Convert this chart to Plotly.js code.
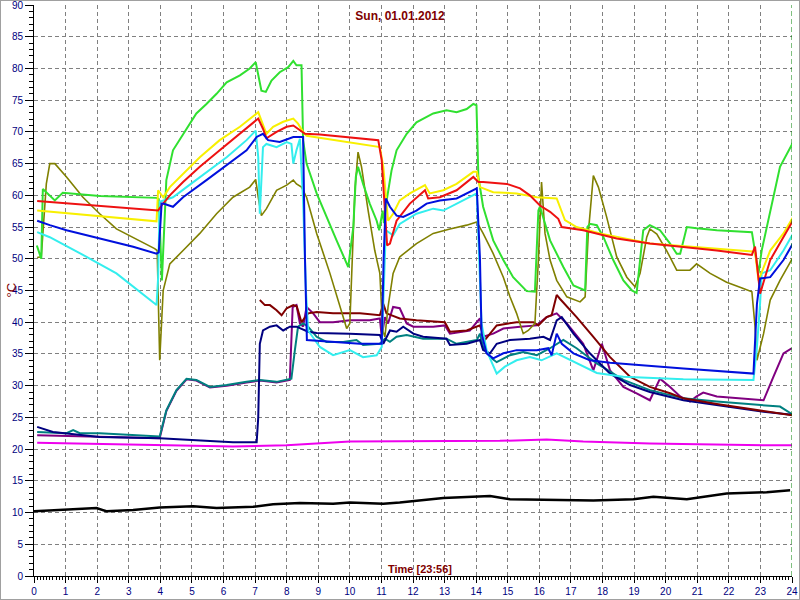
<!DOCTYPE html>
<html>
<head>
<meta charset="utf-8">
<script src="https://cdn.plot.ly/plotly-3.0.1.min.js"></script>
<style>
  html, body { margin:0; padding:0; background:#fff; }
  #frame { width:800px; height:600px; box-sizing:border-box; border:1px solid #a0a0a0; }
  #chart { width:798px; height:598px; }
</style>
</head>
<body>
<div id="frame"><div id="chart"></div></div>
<script>
// ---- data (time in hours, temperature in °C) ----
const titleText = 'Sun, 01.01.2012';
const xTitleText = 'Time [23:56]';
const yTitleText = '°C';
const hourTicks = [0,1,2,3,4,5,6,7,8,9,10,11,12,13,14,15,16,17,18,19,20,21,22,23,24];
const tempTicks = [0,5,10,15,20,25,30,35,40,45,50,55,60,65,70,75,80,85,90];

const greenT = [0.09,0.23,0.28,0.66,0.91,2.08,3.89,3.95,4.05,4.19,4.40,4.72,5.14,5.46,5.78,6.10,6.52,6.83,7.02,7.20,7.34,7.52,7.78,8.05,8.21,8.31,8.47,8.52,8.63,8.95,9.26,9.58,9.95,10.11,10.19,10.26,10.42,10.63,10.85,10.93,11.04,11.08,11.16,11.32,11.48,11.80,12.11,12.64,13.06,13.38,13.70,13.91,14.01,14.07,14.22,14.54,14.86,15.17,15.60,15.86,15.97,16.02,16.34,16.76,17.08,17.45,17.52,17.60,17.82,18.03,18.34,18.66,18.93,19.08,19.19,19.29,19.50,19.82,20.14,20.35,20.46,20.67,20.98,21.62,22.73,22.83,22.94,23.04,23.31,23.62,24.04];
const greenV = [52.1,50.0,61.0,59.2,60.4,59.9,59.6,59.4,46.6,62.4,67.1,69.7,72.9,74.4,76.0,77.8,78.9,80.0,81.0,76.5,76.3,78.1,79.4,80.2,81.2,80.5,80.5,68.7,65.0,60.3,56.6,52.9,48.7,55.0,62.9,64.5,61.8,58.7,56.0,54.5,57.6,55.6,59.0,63.9,67.1,69.7,71.5,72.9,73.4,73.1,73.6,74.4,74.2,62.9,58.2,52.9,49.8,47.1,44.9,44.8,57.6,58.2,52.9,48.7,45.8,45.0,55.0,55.5,55.3,53.4,49.8,46.6,45.0,44.6,49.8,54.5,55.3,54.5,52.4,50.8,50.8,55.0,54.8,54.5,54.2,51.3,47.7,51.3,57.6,64.5,68.4];

const yellowT = [0.10,3.88,3.93,4.09,4.30,4.72,5.25,5.88,6.52,7.10,7.20,7.36,7.57,7.89,8.21,8.36,8.52,8.63,10.95,11.06,11.21,11.37,11.58,11.90,12.38,12.53,12.96,13.38,13.91,14.02,14.12,14.54,15.28,15.92,16.55,16.81,17.18,17.92,19.50,21.62,22.83,22.94,23.31,23.73,24.04];
const yellowV = [57.6,55.9,60.8,59.7,61.3,63.4,66.0,68.7,70.8,73.1,71.8,69.7,70.8,71.6,72.1,71.3,70.0,69.4,67.6,64.5,56.0,57.1,59.2,60.3,61.6,60.3,60.8,61.8,63.7,63.7,61.3,60.5,60.3,59.7,59.5,56.1,55.0,54.0,52.4,51.6,51.1,46.6,51.3,54.0,56.6];

const redT = [0.10,3.88,3.93,4.04,4.30,4.72,5.25,5.88,6.52,7.10,7.25,7.36,7.68,8.00,8.21,8.42,8.58,9.05,10.90,11.01,11.11,11.18,11.27,11.48,11.90,12.38,12.48,12.85,13.38,13.91,14.07,14.22,14.97,15.39,15.70,16.02,16.34,16.60,16.71,17.39,18.45,19.50,21.62,22.73,22.83,22.99,23.31,23.73,24.04];
const redV = [59.1,57.7,57.6,58.4,60.0,62.1,64.5,67.1,69.7,72.1,70.5,69.0,70.0,70.8,71.0,70.2,69.7,69.6,68.7,65.5,57.1,52.1,52.4,56.0,58.7,60.8,59.5,59.7,60.8,62.9,62.1,62.1,61.8,61.1,60.0,58.4,57.4,56.3,55.0,54.5,53.2,52.4,51.3,50.6,51.9,44.5,49.8,53.4,56.1];

const cyanT = [0.10,0.50,1.55,2.61,3.88,3.93,3.98,4.40,4.83,5.46,6.10,6.73,7.02,7.10,7.15,7.25,7.36,7.68,8.00,8.15,8.21,8.31,8.42,8.52,8.61,8.68,9.05,9.47,10.00,10.42,10.85,11.01,11.08,11.14,11.37,11.58,12.11,12.64,12.96,13.38,14.02,14.17,14.33,14.49,14.65,14.91,15.28,15.70,16.07,16.55,16.87,17.39,17.82,18.66,20.56,22.78,22.89,22.99,23.04,23.31,23.73,24.04];
const cyanV = [54.2,53.4,50.6,47.7,42.7,47.0,59.0,59.7,61.3,63.7,66.0,68.7,70.2,66.0,57.1,67.6,68.1,67.6,68.4,68.1,65.0,67.1,68.9,59.2,45.0,38.7,36.1,34.8,35.6,34.5,34.8,36.1,45.0,54.5,53.7,55.5,57.1,57.9,57.6,58.7,60.3,39.8,35.6,33.7,31.9,33.0,34.0,34.5,34.0,35.1,34.3,33.0,32.0,31.4,31.0,30.9,36.1,43.0,47.7,48.2,51.3,54.0];

const blueT = [0.10,0.50,1.03,2.08,3.14,3.88,3.95,4.04,4.09,4.40,4.72,5.46,6.10,6.73,7.05,7.25,7.41,7.78,8.21,8.52,8.58,8.64,10.32,11.01,11.07,11.14,11.27,11.48,11.69,12.11,12.43,12.85,13.38,14.02,14.12,14.17,14.33,14.54,14.86,15.28,15.92,16.28,16.39,16.55,16.71,17.08,17.60,18.24,20.56,22.78,22.89,22.99,23.31,23.73,24.04];
const blueV = [56.0,55.3,54.5,53.2,51.9,50.8,51.0,58.7,58.7,58.2,59.7,62.4,64.7,67.1,69.2,69.7,68.7,68.4,69.2,69.2,50.0,37.2,36.6,36.6,50.0,59.5,58.2,56.8,56.6,57.6,58.7,59.2,59.5,61.1,50.0,38.2,35.1,34.3,35.1,35.6,35.6,35.9,34.8,38.2,36.6,35.1,34.0,33.6,32.7,31.9,42.9,46.9,47.1,49.8,52.5];

const oliveT = [0.10,0.23,0.39,0.50,0.66,1.03,1.55,2.08,2.61,3.14,3.82,3.90,3.98,4.09,4.30,4.72,5.25,5.78,6.30,6.83,7.02,7.10,7.20,7.36,7.68,8.00,8.21,8.31,8.47,8.63,8.95,9.37,9.68,9.90,10.00,10.16,10.26,10.37,10.58,10.79,10.95,11.04,11.11,11.21,11.37,11.58,12.11,12.64,13.17,13.70,14.02,14.22,14.54,14.86,15.07,15.28,15.49,15.65,15.86,15.97,16.07,16.18,16.34,16.55,16.87,17.29,17.45,17.55,17.71,17.87,18.13,18.45,18.77,19.03,19.19,19.40,19.50,19.72,20.03,20.35,20.77,20.98,21.41,21.93,22.46,22.73,22.83,22.89,23.10,23.31,23.62,24.04];
const oliveV = [50.2,50.3,61.8,65.0,65.0,62.9,59.7,57.1,54.7,53.4,51.6,51.3,34.0,45.0,49.2,51.3,54.0,57.1,59.7,61.3,62.5,59.7,56.8,57.9,60.8,61.6,62.4,61.8,61.3,59.7,54.0,47.7,42.4,39.0,39.8,60.8,66.8,64.5,57.6,51.3,47.7,38.7,37.7,42.4,47.7,50.3,52.4,54.0,54.7,55.3,55.8,54.0,50.8,47.1,44.0,41.4,38.2,38.7,39.8,49.8,62.1,54.0,49.8,46.6,44.0,43.2,44.0,54.0,63.1,61.3,56.6,50.3,47.1,45.6,47.7,53.4,54.7,53.9,51.3,48.2,48.2,49.2,47.7,46.3,45.3,44.8,39.3,34.0,38.2,43.5,46.6,50.3];

const maroonT = [7.15,7.31,7.47,7.68,7.84,8.00,8.21,8.32,8.47,8.68,8.95,9.47,10.32,10.95,11.06,11.16,11.58,12.11,13.01,13.17,13.70,14.12,14.28,14.54,14.65,15.28,15.81,15.97,16.23,16.39,16.55,16.65,17.18,17.71,18.24,18.87,19.50,20.14,20.56,21.62,23.10,24.04];
const maroonV = [43.5,42.7,42.7,41.9,41.1,42.2,42.7,42.5,40.0,41.4,41.6,41.4,41.4,41.1,42.9,41.4,40.6,40.3,40.0,38.5,38.7,39.5,37.2,38.7,39.5,40.0,40.0,39.5,40.8,41.1,44.3,43.7,40.8,37.7,34.5,31.4,29.8,28.8,28.0,27.1,26.0,25.3];

const purpleT = [0.10,2.08,3.98,4.19,4.51,4.83,5.14,5.57,6.10,6.73,7.15,7.68,8.10,8.19,8.31,8.42,8.52,8.63,8.84,9.05,9.47,10.00,10.63,10.95,11.01,11.11,11.21,11.37,11.58,11.80,12.01,12.64,13.01,13.17,13.80,14.12,14.22,14.54,14.86,15.39,15.92,16.23,16.55,16.87,17.39,17.71,17.98,18.24,18.66,19.08,19.50,19.82,20.14,20.46,20.77,20.98,21.19,21.62,23.10,23.41,23.73,23.99];
const purpleV = [22.2,21.9,21.7,26.0,29.2,31.0,30.8,29.7,30.0,30.5,30.8,30.5,30.9,42.4,42.7,39.8,39.3,42.4,41.4,40.0,40.0,40.3,40.3,40.6,37.7,40.8,39.8,42.4,42.2,39.8,39.3,39.3,39.5,38.2,38.7,40.6,37.7,38.2,39.0,39.3,39.5,40.8,41.4,39.8,36.6,32.4,36.6,32.4,29.8,28.8,27.7,31.1,29.8,28.3,27.5,28.3,28.9,28.3,27.7,31.4,35.1,35.9];

const navyT = [0.10,0.60,2.08,3.98,6.30,7.05,7.10,7.15,7.25,7.47,7.68,7.89,8.10,8.31,8.68,8.95,10.00,10.95,11.06,11.27,11.48,11.69,12.01,12.32,13.06,13.17,13.70,14.12,14.22,14.44,14.65,15.07,15.70,16.13,16.34,16.55,16.71,17.08,17.60,18.24,18.87,19.50,20.56,21.62,23.10,24.04];
const navyV = [23.5,22.7,21.9,21.7,21.1,21.1,25.0,36.6,38.7,39.3,39.5,38.7,39.3,39.3,38.5,38.3,38.2,38.0,36.6,38.7,38.5,39.3,38.2,37.7,37.4,36.4,36.6,37.2,35.6,35.1,36.6,37.2,37.4,37.7,37.2,40.3,40.8,38.2,35.1,31.9,30.1,29.0,27.7,26.9,25.9,25.4];

const tealT = [0.10,1.03,1.24,1.45,2.08,3.98,4.19,4.51,4.83,5.14,5.57,6.10,6.73,7.15,7.68,8.15,8.26,8.36,8.52,8.68,8.95,9.26,9.79,10.21,10.42,10.95,11.11,11.27,11.48,11.80,12.32,13.06,13.38,14.02,14.12,14.22,14.44,14.65,15.07,15.49,15.92,16.34,16.76,17.18,17.82,18.66,19.50,20.56,21.62,23.62,24.04];
const tealV = [22.7,22.5,23.0,22.5,22.5,22.0,26.1,29.3,31.1,30.9,29.8,30.1,30.6,30.9,30.6,31.1,35.6,39.3,39.8,39.3,37.7,36.9,36.9,37.2,36.4,36.6,37.4,36.9,37.7,38.0,37.4,37.4,36.6,37.2,38.2,36.1,34.5,33.7,34.8,35.3,34.8,35.9,37.2,35.9,33.5,30.9,29.3,28.0,27.5,26.7,25.4];

const magentaT = [0.10,2.08,4.19,6.30,8.00,10.00,14.75,16.23,17.39,19.50,23.10,24.04];
const magentaV = [21.0,20.8,20.5,20.4,20.6,21.2,21.3,21.5,21.2,20.9,20.6,20.6];

const blackT = [0.00,1.03,1.98,2.29,3.14,3.98,5.04,5.78,6.94,7.57,8.42,9.47,10.00,11.06,11.58,12.96,14.44,15.07,16.34,17.71,18.98,19.61,20.67,21.93,23.20,23.94];
const blackV = [10.2,10.5,10.7,10.2,10.4,10.8,11.0,10.7,10.9,11.3,11.5,11.4,11.6,11.4,11.6,12.3,12.6,12.1,12.0,11.9,12.1,12.5,12.1,13.0,13.2,13.5];

// ---- traces ----
function line(t, v, color, width) {
  return { type:'scatter', mode:'lines', x:t, y:v, line:{color:color, width:width, shape:'linear'}, hoverinfo:'skip' };
}
const traces = [
  line(magentaT, magentaV, '#ee00ee', 2),
  line(blackT, blackV, '#000000', 2.5),
  line(purpleT, purpleV, '#800080', 2),
  line(tealT, tealV, '#008080', 2),
  line(navyT, navyV, '#000080', 2),
  line(maroonT, maroonV, '#800000', 2),
  line(oliveT, oliveV, '#808000', 1.6),
  line(greenT, greenV, '#30e030', 2),
  line(cyanT, cyanV, '#33eeee', 2),
  line(yellowT, yellowV, '#f8f000', 2),
  line(redT, redV, '#ee1111', 2),
  line(blueT, blueV, '#0010dd', 2)
];

const font = 'Liberation Sans, Arial, sans-serif';
const layout = {
  width:798, height:598,
  margin:{l:33, r:7, t:4, b:23, pad:0},
  paper_bgcolor:'#ffffff', plot_bgcolor:'#ffffff',
  showlegend:false,
  font:{family:font, size:10, color:'#000080'},
  title:{text:titleText, font:{family:font, size:12, color:'#800000', weight:'bold'},
         x:0.5, xref:'container', xanchor:'center', y:1-15/598, yref:'container', yanchor:'middle'},
  xaxis:{
    range:[0,24], tickmode:'array', tickvals:hourTicks, ticktext:hourTicks.map(String),
    showgrid:true, gridcolor:'#808080', griddash:'4px,3px', gridwidth:1,
    zeroline:false, showline:true, linecolor:'#000000', linewidth:1,
    ticks:'outside', ticklen:6, tickcolor:'#000000', tickwidth:1,
    tickfont:{family:font, size:10, color:'#000080'}, ticklabeloverflow:'allow',
    minor:{dtick:0.1, tick0:0, ticks:'outside', ticklen:3, tickcolor:'#000000', showgrid:false},
    fixedrange:true
  },
  yaxis:{
    range:[0,90], tickmode:'array', tickvals:tempTicks, ticktext:tempTicks.map(String),
    showgrid:true, gridcolor:'#808080', griddash:'4px,3px', gridwidth:1,
    zeroline:false, showline:true, linecolor:'#000000', linewidth:1,
    ticks:'outside', ticklen:8, tickcolor:'#000000', tickwidth:1,
    tickfont:{family:font, size:10, color:'#000080'}, ticklabeloverflow:'allow',
    minor:{dtick:1, tick0:0, ticks:'outside', ticklen:4, tickcolor:'#000000', showgrid:false},
    fixedrange:true
  },
  shapes:[
    {type:'line', xref:'x', yref:'paper', x0:24, x1:24, y0:0, y1:1,
     line:{color:'#008000', width:1, dash:'5px,3px'}}
  ],
  annotations:[
    {text:'<b>'+xTitleText+'</b>', xref:'paper', yref:'paper', x:(420-34)/758, y:7/571,
     xanchor:'center', yanchor:'middle', showarrow:false,
     font:{family:font, size:11, color:'#800000'}},
    {text:yTitleText, xref:'paper', yref:'paper', x:0, y:0.5, xshift:-23,
     xanchor:'center', yanchor:'middle', textangle:-90, showarrow:false,
     font:{family:font, size:13, color:'#800000'}}
  ]
};

Plotly.newPlot('chart', traces, layout, {displayModeBar:false, staticPlot:true});
</script>
</body>
</html>
